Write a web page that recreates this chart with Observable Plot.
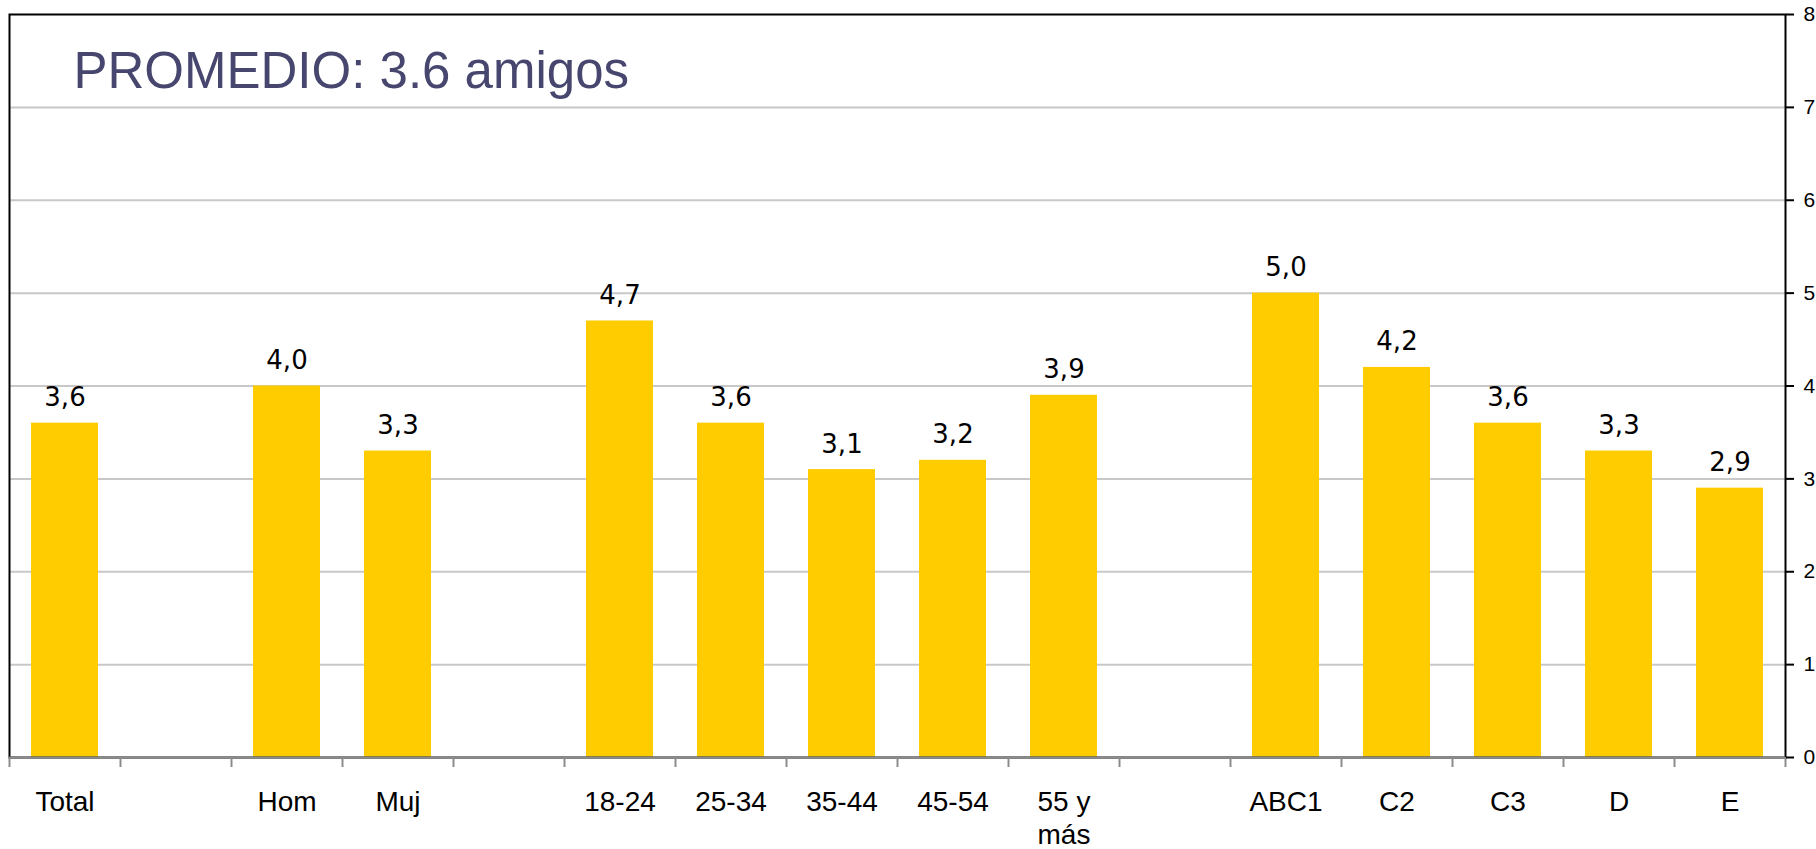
<!DOCTYPE html>
<html>
<head>
<meta charset="utf-8">
<script src="https://cdn.jsdelivr.net/npm/d3@7"></script>
<script src="https://cdn.jsdelivr.net/npm/@observablehq/plot@0.6"></script>
<style>
  html, body { margin: 0; padding: 0; background: #ffffff; }
  #chart svg { display: block; }
</style>
</head>
<body>
<div id="chart"></div>
<script>
// ---- data ----
const title = "PROMEDIO: 3.6 amigos";
const categories = ["Total", "gap1", "Hom", "Muj", "gap2", "18-24", "25-34", "35-44", "45-54", "55 y más", "gap3", "ABC1", "C2", "C3", "D", "E"];
const labels = ["Total", "", "Hom", "Muj", "", "18-24", "25-34", "35-44", "45-54", "55 y\nmás", "", "ABC1", "C2", "C3", "D", "E"];
const values = [3.6, null, 4.0, 3.3, null, 4.7, 3.6, 3.1, 3.2, 3.9, null, 5.0, 4.2, 3.6, 3.3, 2.9];
const yTicks = [0, 1, 2, 3, 4, 5, 6, 7, 8];

const data = categories.map((c, i) => ({cat: c, label: labels[i], value: values[i]}));
const barsData = data.filter(d => d.value != null);
const labelOf = new Map(data.map(d => [d.cat, d.label]));

const W = 1816, H = 849;
const mL = 9, mR = 31, mT = 14, mB = 92;
const step = (W - mL - mR) / categories.length;

const fmt = v => v.toFixed(1).replace(".", ",");
const sans = "'Liberation Sans', Arial, sans-serif";

const chart = Plot.plot({
  width: W,
  height: H,
  marginLeft: mL,
  marginRight: mR,
  marginTop: mT,
  marginBottom: mB,
  style: {background: "#ffffff", fontFamily: sans},
  x: {domain: categories, paddingInner: 0.4, paddingOuter: 0.2},
  y: {domain: [0, 8]},
  marks: [
    Plot.ruleY(yTicks.filter(t => t > 0 && t < 8), {stroke: "#c8c8c8", strokeWidth: 2}),
    Plot.barY(barsData, {x: "cat", y: "value", fill: "#FFCC00"}),
    Plot.frame({stroke: "#000000", strokeWidth: 2}),
    Plot.ruleY([0], {stroke: "#8c8c8c", strokeWidth: 2}),
    // category boundary ticks
    Plot.axisX({ticks: categories, tickSize: 10, tickFormat: () => "", label: null, stroke: "#8c8c8c", strokeWidth: 2, dx: -step / 2}),
    Plot.axisX({ticks: categories.slice(-1), tickSize: 10, tickFormat: () => "", label: null, stroke: "#8c8c8c", strokeWidth: 2, dx: step / 2}),
    // category labels
    Plot.axisX({ticks: categories, tickSize: 0, tickPadding: 30, tickFormat: d => labelOf.get(d), label: null, fontSize: 28, lineHeight: 1.18, fill: "#000000", fontFamily: sans}),
    // right value axis
    Plot.axisY({anchor: "right", ticks: yTicks, tickSize: 8, tickPadding: 10, label: null, strokeWidth: 2, stroke: "#000000", fill: "#000000", fontSize: 21, tickFormat: d => String(d), fontFamily: sans}),
    // value labels
    Plot.text(barsData, {x: "cat", y: "value", text: d => fmt(d.value), lineAnchor: "bottom", dy: -17, fontSize: 26, fill: "#000000", fontFamily: "'DejaVu Sans', sans-serif"}),
    // title inside the frame
    Plot.text([title], {frameAnchor: "top-left", textAnchor: "start", lineAnchor: "top", dx: 64, dy: 37, fontSize: 51, fill: "#46466e", fontFamily: sans})
  ]
});
document.getElementById("chart").appendChild(chart);
</script>
</body>
</html>
